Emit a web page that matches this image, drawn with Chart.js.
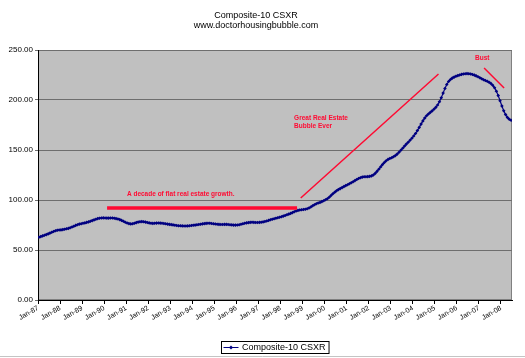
<!DOCTYPE html>
<html>
<head>
<meta charset="utf-8">
<script src="https://cdn.jsdelivr.net/npm/chart.js@4.4.0/dist/chart.umd.min.js"></script>
<style>
  html, body { margin: 0; padding: 0; background: #fff; }
</style>
</head>
<body>
<canvas id="csxr" width="525" height="358"></canvas>
<script>
const seriesName = 'Composite-10 CSXR';

// monthly index, one row per year (Jan..Dec), last row stops at Jun-08
const values = [
  62.8, 63.4, 64.1, 64.8, 65.4, 66.1, 66.9, 67.7, 68.5, 69.2, 69.7, 70.0,
  70.1, 70.4, 70.8, 71.2, 71.6, 72.2, 73.0, 73.8, 74.6, 75.3, 75.9, 76.3,
  76.7, 77.1, 77.6, 78.1, 78.7, 79.4, 80.1, 80.8, 81.4, 81.8, 82.0, 82.1,
  82.0, 81.9, 81.9, 82.0, 82.0, 81.8, 81.4, 81.0, 80.4, 79.6, 78.7, 77.8,
  77.0, 76.4, 76.1, 76.3, 76.8, 77.4, 77.9, 78.3, 78.4, 78.2, 77.9, 77.5,
  77.1, 76.8, 76.6, 76.7, 76.9, 77.0, 76.9, 76.7, 76.5, 76.2, 75.9, 75.6,
  75.4, 75.1, 74.8, 74.5, 74.3, 74.2, 74.1, 74.0, 74.0, 74.1, 74.3, 74.5,
  74.7, 74.9, 75.2, 75.5, 75.8, 76.1, 76.4, 76.6, 76.7, 76.7, 76.5, 76.2,
  76.0, 75.8, 75.6, 75.5, 75.5, 75.6, 75.6, 75.5, 75.3, 75.1, 74.9, 74.9,
  75.0, 75.3, 75.7, 76.2, 76.7, 77.1, 77.4, 77.6, 77.7, 77.6, 77.5, 77.5,
  77.6, 77.8, 78.1, 78.5, 79.0, 79.6, 80.2, 80.8, 81.3, 81.8, 82.3, 82.8,
  83.3, 83.9, 84.5, 85.2, 85.9, 86.6, 87.4, 88.2, 89.0, 89.6, 90.0, 90.3,
  90.5, 90.8, 91.3, 92.0, 93.0, 94.2, 95.3, 96.3, 97.0, 97.6, 98.4, 99.3,
  100.2, 101.3, 102.8, 104.5, 106.2, 107.8, 109.2, 110.4, 111.4, 112.4, 113.4, 114.4,
  115.3, 116.2, 117.2, 118.3, 119.4, 120.5, 121.5, 122.3, 122.9, 123.2, 123.3, 123.4,
  123.6, 124.1, 125.0, 126.6, 128.6, 130.8, 133.1, 135.4, 137.5, 139.3, 140.6, 141.5,
  142.3, 143.2, 144.4, 145.9, 147.7, 149.7, 151.8, 153.9, 155.9, 157.8, 159.7, 161.8,
  164.0, 166.5, 169.4, 172.6, 175.9, 179.1, 181.9, 184.2, 186.0, 187.6, 189.1, 190.7,
  192.6, 195.0, 198.2, 202.3, 206.9, 211.5, 215.5, 218.5, 220.5, 221.9, 222.9, 223.7,
  224.4, 225.0, 225.6, 226.0, 226.3, 226.4, 226.3, 226.0, 225.5, 224.9, 224.1, 223.2,
  222.2, 221.2, 220.3, 219.5, 218.7, 217.8, 216.6, 214.8, 212.2, 208.8, 204.4, 199.3,
  194.0, 189.2, 185.4, 182.6, 180.8, 179.7
];

const tickLabels = [
  'Jan-87', 'Jan-88', 'Jan-89', 'Jan-90', 'Jan-91', 'Jan-92', 'Jan-93', 'Jan-94',
  'Jan-95', 'Jan-96', 'Jan-97', 'Jan-98', 'Jan-99', 'Jan-00', 'Jan-01', 'Jan-02',
  'Jan-03', 'Jan-04', 'Jan-05', 'Jan-06', 'Jan-07', 'Jan-08'
];

// hand drawn red notes, in chart units (month index, index value)
const noteLines = [
  { from: [37.6, 92], to: [141, 92], width: 3.5 },
  { from: [143, 102], to: [218, 226], width: 1.5 },
  { from: [242.8, 232], to: [253.7, 212], width: 1.5 }
];
const noteTexts = [
  { text: 'A decade of flat real estate growth.', at: [48.4, 106] },
  { text: 'Great Real Estate', at: [139.4, 182] },
  { text: 'Bubble Ever', at: [139.4, 173.3] },
  { text: 'Bust', at: [237.9, 241.3] }
];

const lineColor = '#000080';
const noteRed = '#ff0a32';
const fontFamily = '"Liberation Sans", Arial, sans-serif';

Chart.defaults.font.family = fontFamily;
Chart.defaults.color = '#000';

const plotBackground = {
  id: 'plotBackground',
  beforeDraw(chart) {
    const { ctx, chartArea: a } = chart;
    ctx.save();
    ctx.fillStyle = '#c0c0c0';
    ctx.fillRect(a.left, a.top, a.right - a.left, a.bottom - a.top);
    ctx.strokeStyle = '#808080';
    ctx.lineWidth = 1;
    ctx.strokeRect(a.left + 0.5, a.top + 0.5, a.right - a.left - 1, a.bottom - a.top - 1);
    // outer chart frame, only the bottom edge is inside the picture
    ctx.strokeStyle = '#c4c4c4';
    ctx.beginPath();
    ctx.moveTo(0, chart.height - 1.5);
    ctx.lineTo(chart.width, chart.height - 1.5);
    ctx.stroke();
    ctx.restore();
  }
};

const redNotes = {
  id: 'redNotes',
  afterDatasetsDraw(chart) {
    const { ctx, scales: { x, y } } = chart;
    ctx.save();
    ctx.strokeStyle = noteRed;
    noteLines.forEach(l => {
      ctx.lineWidth = l.width;
      ctx.beginPath();
      ctx.moveTo(x.getPixelForValue(l.from[0]), y.getPixelForValue(l.from[1]));
      ctx.lineTo(x.getPixelForValue(l.to[0]), y.getPixelForValue(l.to[1]));
      ctx.stroke();
    });
    ctx.fillStyle = noteRed;
    ctx.font = 'bold 6.5px ' + fontFamily;
    ctx.textBaseline = 'middle';
    noteTexts.forEach(t => {
      ctx.fillText(t.text, x.getPixelForValue(t.at[0]), y.getPixelForValue(t.at[1]));
    });
    ctx.restore();
  }
};

// excel style boxed legend under the axis
const boxLegend = {
  id: 'boxLegend',
  afterDraw(chart) {
    const { ctx, chartArea: a } = chart;
    const ds = chart.data.datasets[0];
    ctx.save();
    ctx.font = '9px ' + fontFamily;
    const textW = ctx.measureText(ds.label).width;
    const boxW = textW + 24;
    const left = Math.round((a.left + a.right) / 2 - boxW / 2) + 0.5;
    const midY = chart.height - 10.5;
    ctx.strokeStyle = '#000';
    ctx.lineWidth = 1;
    ctx.strokeRect(left, midY - 6, boxW, 12);
    ctx.strokeStyle = ds.borderColor;
    ctx.beginPath();
    ctx.moveTo(left + 2, midY);
    ctx.lineTo(left + 17, midY);
    ctx.stroke();
    ctx.fillStyle = ds.borderColor;
    ctx.beginPath();
    ctx.moveTo(left + 9.5, midY - 2);
    ctx.lineTo(left + 11.5, midY);
    ctx.lineTo(left + 9.5, midY + 2);
    ctx.lineTo(left + 7.5, midY);
    ctx.fill();
    ctx.fillStyle = '#000';
    ctx.textBaseline = 'middle';
    ctx.fillText(ds.label, left + 20.5, midY + 0.5);
    ctx.restore();
  }
};

const ctx = document.getElementById('csxr').getContext('2d');
new Chart(ctx, {
  type: 'line',
  data: {
    datasets: [{
      label: seriesName,
      data: values.map((v, i) => ({ x: i + 0.5, y: v })),
      borderColor: lineColor,
      backgroundColor: lineColor,
      borderWidth: 1.2,
      pointStyle: 'rectRot',
      pointRadius: 1.8,
      pointBorderWidth: 0,
      pointHoverRadius: 0,
      tension: 0
    }]
  },
  options: {
    responsive: false,
    animation: false,
    events: [],
    layout: { padding: { top: 0, right: 13, bottom: 18, left: 0 } },
    plugins: {
      legend: { display: false },
      tooltip: { enabled: false },
      title: {
        display: true,
        text: ['Composite-10 CSXR', 'www.doctorhousingbubble.com'],
        color: '#000',
        font: { size: 9, weight: 'normal', lineHeight: 1.15 },
        padding: { top: 10, bottom: 19.3 }
      }
    },
    scales: {
      x: {
        type: 'linear',
        min: 0,
        max: values.length,
        afterBuildTicks: s => { s.ticks = tickLabels.map((_, i) => ({ value: i * 12 })); },
        afterFit: s => { s.height = 40; },
        grid: { drawOnChartArea: false, color: '#000', tickLength: 4 },
        border: { color: '#000' },
        ticks: {
          autoSkip: false,
          minRotation: 30,
          maxRotation: 30,
          padding: 0,
          font: { size: 7 },
          callback: (v, i) => tickLabels[i]
        }
      },
      y: {
        min: 0,
        max: 250,
        afterFit: s => { s.width = 38; },
        grid: { color: '#6e6e6e', tickLength: 3 },
        border: { color: '#000' },
        ticks: {
          stepSize: 50,
          padding: 2,
          font: { size: 8 },
          callback: v => v.toFixed(2)
        }
      }
    }
  },
  plugins: [plotBackground, redNotes, boxLegend]
});
</script>
</body>
</html>
